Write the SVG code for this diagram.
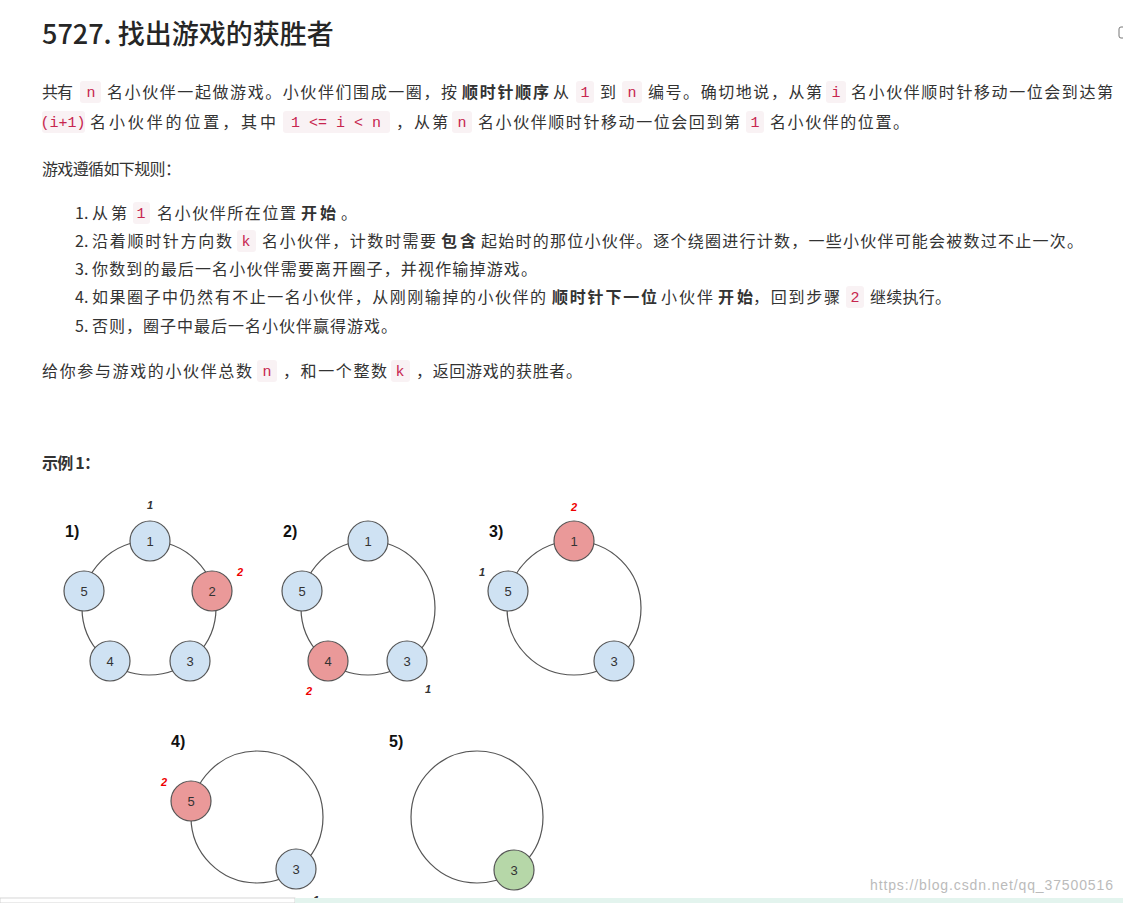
<svg xmlns="http://www.w3.org/2000/svg" width="1123" height="903" viewBox="0 0 1123 903">
<style>
.t{font-family:"Noto Sans CJK SC","Liberation Sans",sans-serif;font-size:16px;fill:#333}
.b{font-weight:bold}
.cb{fill:#f9f2f4}
.c{font-family:"Liberation Mono",monospace;font-size:15px;fill:#c7254e;text-anchor:middle}
.ring{fill:none;stroke:#555;stroke-width:1.2}
.nb{fill:#cfe2f3;stroke:#555;stroke-width:1.2}
.nr{fill:#ea9999;stroke:#555;stroke-width:1.2}
.ng{fill:#b6d7a8;stroke:#555;stroke-width:1.2}
.nl{font-family:"Liberation Sans",sans-serif;font-size:13px;fill:#333;text-anchor:middle}
.lab{font-family:"Liberation Sans",sans-serif;font-size:16px;font-weight:bold;fill:#111}
.cnt{font-family:"Liberation Sans",sans-serif;font-size:11px;font-style:italic;font-weight:bold;fill:#333;text-anchor:middle}
.red{fill:#e00}
</style>
<rect width="1123" height="903" fill="#fff"/>
<text x="42" y="44" font-family="Noto Sans CJK SC,Liberation Sans,sans-serif" font-size="27" font-weight="500" fill="#262626">5727. 找出游戏的获胜者</text>
<rect x="1119" y="27" width="8" height="11" rx="2" fill="none" stroke="#777"/>
<g id="para">
<rect class="cb" x="80" y="81" width="21" height="22" rx="3"/><text class="c" x="91" y="97">n</text>
<rect class="cb" x="576" y="81" width="18" height="22" rx="3"/><text class="c" x="585" y="97">1</text>
<rect class="cb" x="622" y="81" width="20" height="22" rx="3"/><text class="c" x="632" y="97">n</text>
<rect class="cb" x="826" y="81" width="20" height="22" rx="3"/><text class="c" x="836" y="97">i</text>
<text class="t" x="42" y="98" textLength="31">共有</text>
<text class="t" x="107" y="98" textLength="350">名小伙伴一起做游戏。小伙伴们围成一圈，按</text>
<text class="t b" x="462" y="98" textLength="87">顺时针顺序</text>
<text class="t" x="553" y="98">从</text>
<text class="t" x="600" y="98">到</text>
<text class="t" x="648" y="98" textLength="174">编号。确切地说，从第</text>
<text class="t" x="851" y="98" textLength="262">名小伙伴顺时针移动一位会到达第</text>
<rect class="cb" x="42" y="111" width="43" height="22" rx="3"/><text class="c" x="63" y="127">(i+1)</text>
<rect class="cb" x="283" y="111" width="107" height="22" rx="3"/><text class="c" x="336" y="127">1 &lt;= i &lt; n</text>
<rect class="cb" x="452" y="111" width="20" height="22" rx="3"/><text class="c" x="462" y="127">n</text>
<rect class="cb" x="746" y="111" width="18" height="22" rx="3"/><text class="c" x="755" y="127">1</text>
<text class="t" x="90" y="128" textLength="186">名小伙伴的位置，其中</text>
<text class="t" x="396" y="128" textLength="52">，从第</text>
<text class="t" x="478" y="128" textLength="262">名小伙伴顺时针移动一位会回到第</text>
<text class="t" x="770" y="128" textLength="139">名小伙伴的位置。</text>
<text class="t" x="42" y="175" textLength="139">游戏遵循如下规则：</text>
</g>
<g id="rules">
<text class="t" x="75" y="219">1.</text>
<text class="t" x="92" y="219" textLength="35">从第</text>
<rect class="cb" x="133" y="202" width="17" height="22" rx="3"/><text class="c" x="141" y="218">1</text>
<text class="t" x="157" y="219" textLength="139">名小伙伴所在位置</text>
<text class="t b" x="301" y="219" textLength="35">开始</text>
<text class="t" x="341" y="219">。</text>
<text class="t" x="75" y="247">2.</text>
<text class="t" x="92" y="247" textLength="140">沿着顺时针方向数</text>
<rect class="cb" x="237" y="230" width="19" height="22" rx="3"/><text class="c" x="246" y="246">k</text>
<text class="t" x="262" y="247" textLength="174">名小伙伴，计数时需要</text>
<text class="t b" x="441" y="247" textLength="35">包含</text>
<text class="t" x="481" y="247" textLength="602">起始时的那位小伙伴。逐个绕圈进行计数，一些小伙伴可能会被数过不止一次。</text>
<text class="t" x="75" y="275">3.</text>
<text class="t" x="92" y="275" textLength="445">你数到的最后一名小伙伴需要离开圈子，并视作输掉游戏。</text>
<text class="t" x="75" y="303">4.</text>
<text class="t" x="92" y="303" textLength="454">如果圈子中仍然有不止一名小伙伴，从刚刚输掉的小伙伴的</text>
<text class="t b" x="552" y="303" textLength="105">顺时针下一位</text>
<text class="t" x="661" y="303" textLength="52">小伙伴</text>
<text class="t b" x="718" y="303" textLength="35">开始</text>
<text class="t" x="753" y="303" textLength="87">，回到步骤</text>
<rect class="cb" x="846" y="286" width="18" height="22" rx="3"/><text class="c" x="855" y="302">2</text>
<text class="t" x="870" y="303" textLength="81">继续执行。</text>
<text class="t" x="75" y="332">5.</text>
<text class="t" x="92" y="332" textLength="305">否则，圈子中最后一名小伙伴赢得游戏。</text>
<text class="t" x="42" y="377" textLength="210">给你参与游戏的小伙伴总数</text>
<rect class="cb" x="257" y="360" width="20" height="22" rx="3"/><text class="c" x="267" y="376">n</text>
<text class="t" x="283" y="377" textLength="104">，和一个整数</text>
<rect class="cb" x="391" y="360" width="19" height="22" rx="3"/><text class="c" x="400" y="376">k</text>
<text class="t" x="416" y="377" textLength="166">，返回游戏的获胜者。</text>
<text class="t b" x="42" y="469" textLength="58">示例 1：</text>
</g>
<g id="connectors">
<circle class="ring" cx="149" cy="608" r="67"/>
<circle class="ring" cx="368" cy="608" r="67"/>
<circle class="ring" cx="574" cy="608" r="67"/>
<circle class="ring" cx="257" cy="817" r="66"/>
<circle class="ring" cx="477" cy="817" r="66"/>
</g>
<g id="d1">
<text class="lab" x="65" y="537">1)</text>
<g id="d1n1"><circle class="nb" cx="150" cy="541" r="20"/><text class="nl" x="150" y="546">1</text></g>
<g id="d1n2"><circle class="nr" cx="212" cy="591" r="20"/><text class="nl" x="212" y="596">2</text></g>
<g id="d1n3"><circle class="nb" cx="190" cy="661" r="20"/><text class="nl" x="190" y="666">3</text></g>
<g id="d1n4"><circle class="nb" cx="110" cy="661" r="20"/><text class="nl" x="110" y="666">4</text></g>
<g id="d1n5"><circle class="nb" cx="84" cy="591" r="20"/><text class="nl" x="84" y="596">5</text></g>
<text class="cnt" x="150" y="509">1</text>
<text class="cnt red" x="240" y="576">2</text>
</g>
<g id="d2">
<text class="lab" x="283" y="537">2)</text>
<g id="d2n1"><circle class="nb" cx="368" cy="541" r="20"/><text class="nl" x="368" y="546">1</text></g>
<g id="d2n5"><circle class="nb" cx="302" cy="591" r="20"/><text class="nl" x="302" y="596">5</text></g>
<g id="d2n4"><circle class="nr" cx="328" cy="661" r="20"/><text class="nl" x="328" y="666">4</text></g>
<g id="d2n3"><circle class="nb" cx="407" cy="661" r="20"/><text class="nl" x="407" y="666">3</text></g>
<text class="cnt red" x="309" y="695">2</text>
<text class="cnt" x="428" y="693">1</text>
</g>
<g id="d3">
<text class="lab" x="489" y="537">3)</text>
<g id="d3n1"><circle class="nr" cx="574" cy="541" r="20"/><text class="nl" x="574" y="546">1</text></g>
<g id="d3n5"><circle class="nb" cx="508" cy="591" r="20"/><text class="nl" x="508" y="596">5</text></g>
<g id="d3n3"><circle class="nb" cx="614" cy="661" r="20"/><text class="nl" x="614" y="666">3</text></g>
<text class="cnt red" x="574" y="511">2</text>
<text class="cnt" x="482" y="576">1</text>
</g>
<g id="d4">
<text class="lab" x="171" y="747">4)</text>
<g id="d4n5"><circle class="nr" cx="191" cy="801" r="20"/><text class="nl" x="191" y="806">5</text></g>
<g id="d4n3"><circle class="nb" cx="296" cy="869" r="20"/><text class="nl" x="296" y="874">3</text></g>
<text class="cnt red" x="164" y="786">2</text>
<text class="cnt" x="316" y="904">1</text>
</g>
<g id="d5">
<text class="lab" x="389" y="747">5)</text>
<g id="d5n3"><circle class="ng" cx="514" cy="870" r="20"/><text class="nl" x="514" y="875">3</text></g>
</g>
<rect x="0" y="898" width="295" height="5" fill="#fff" stroke="#ccc" stroke-width="0.8"/>
<rect x="295" y="898" width="828" height="5" fill="#e3f4ee"/>
<text x="870" y="890" font-family="Liberation Sans,sans-serif" font-size="14" fill="#bbb" textLength="243">https://blog.csdn.net/qq_37500516</text>
</svg>
